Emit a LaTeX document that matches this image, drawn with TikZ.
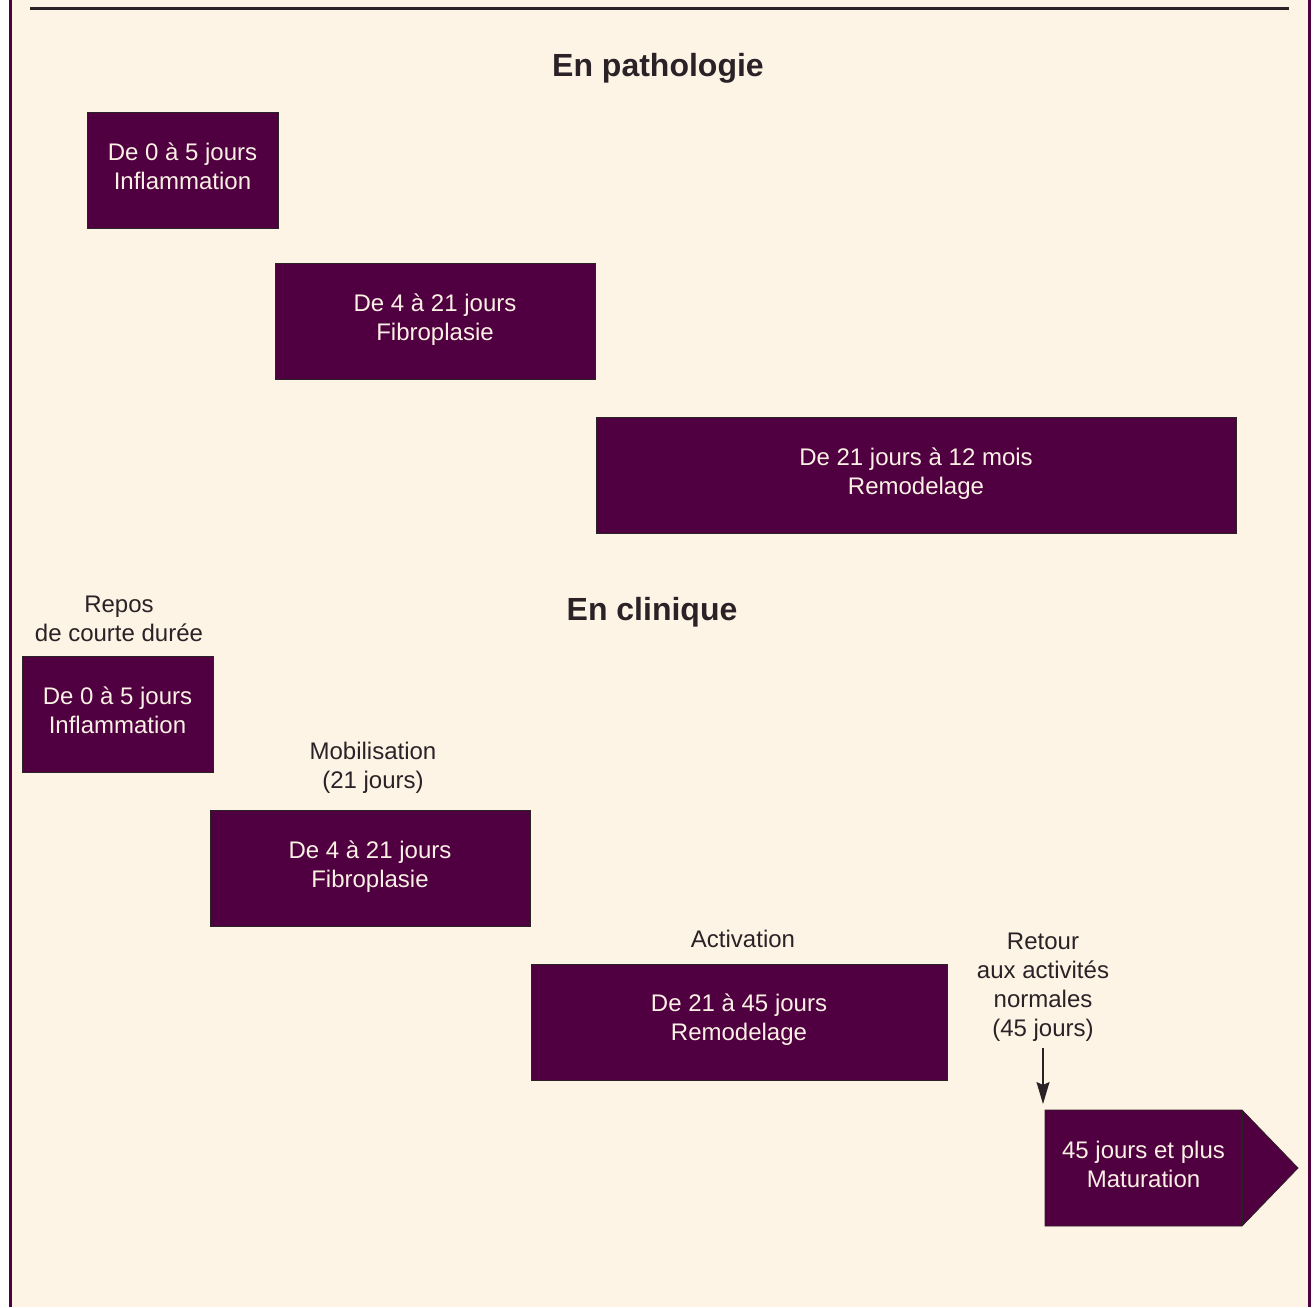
\documentclass[tikz,border=0pt]{standalone}
\usepackage{fontspec}
\setmainfont{Liberation Sans}
\usetikzlibrary{arrows.meta}
\definecolor{bg}{HTML}{FEF4E6}
\definecolor{plum}{HTML}{500040}
\definecolor{txt}{HTML}{FBF0E4}
\definecolor{ink}{HTML}{2A2226}
\begin{document}
\begin{tikzpicture}[x=1pt,y=-1pt,
  phase/.style={draw=ink,line width=0.8pt,fill=plum},
  ptext/.style={text=txt,align=center,font=\fontsize{24}{29}\selectfont,inner sep=0pt},
  lbl/.style={text=ink,align=center,font=\fontsize{24}{29}\selectfont,inner sep=0pt},
  ttl/.style={text=ink,font=\fontsize{32}{36}\selectfont\bfseries,inner sep=0pt}]
\useasboundingbox (0,0) rectangle (1314,1307);
\fill[white] (0,0) rectangle (1314,1307);
\fill[bg] (10,0) rectangle (1309,1307);
\draw[plum,line width=3pt] (10,0) -- (10,1307);
\draw[plum,line width=3pt] (1309,0) -- (1309,1307);
\draw[ink,line width=3pt] (30,8) -- (1289,8);

\node[ttl] (t1) at (658,68) {En pathologie};
\node[ttl] (t2) at (652,612) {En clinique};

\node[phase,minimum width=191,minimum height=116] (p1) at (182.5,170) {};
\node[ptext] at (182.5,166.5) {De 0 à 5 jours\\Inflammation};
\node[phase,minimum width=320,minimum height=116] (p2) at (435,321) {};
\node[ptext] at (435,320) {De 4 à 21 jours\\Fibroplasie};
\node[phase,minimum width=640,minimum height=116] (p3) at (916,475) {};
\node[ptext] at (916,473.5) {De 21 jours à 12 mois\\Remodelage};

\node[phase,minimum width=191,minimum height=116] (c1) at (117.5,714) {};
\node[ptext] at (117.5,710.5) {De 0 à 5 jours\\Inflammation};
\node[phase,minimum width=320,minimum height=116] (c2) at (370,868) {};
\node[ptext] at (370,866.5) {De 4 à 21 jours\\Fibroplasie};
\node[phase,minimum width=416,minimum height=116] (c3) at (739,1022) {};
\node[ptext] at (739,1020) {De 21 à 45 jours\\Remodelage};

\fill[plum,draw=ink,line width=0.8pt] (1045,1110) -- (1242,1110) -- (1298,1168) -- (1242,1226) -- (1045,1226) -- cycle;
\draw[ink,line width=0.6pt] (1242,1110) -- (1242,1226);
\node[ptext] (c4) at (1143.5,1164) {45 jours et plus\\Maturation};

\node[lbl] (l1) at (119,618.5) {Repos\\de courte durée};
\node[lbl] (l2) at (373,768) {Mobilisation\\(21 jours)};
\node[lbl] (l3) at (743,939) {Activation};
\node[lbl] (l4) at (1043,987) {Retour\\aux activités\\normales\\(45 jours)};
\coordinate (a1) at (1043,1048);
\coordinate (a2) at (1043,1104);
\draw[ink,line width=1.2pt,-{Stealth[length=22pt,width=13pt,inset=3pt]}] (a1) -- (a2);
\end{tikzpicture}
\end{document}
